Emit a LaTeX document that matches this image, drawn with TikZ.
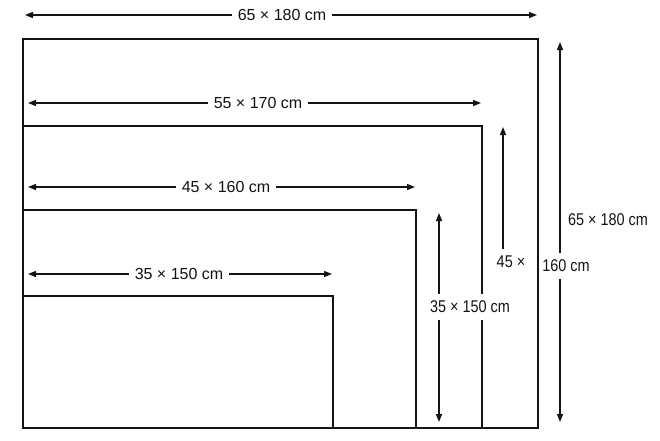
\documentclass[tikz,border=0pt]{standalone}
\usepackage{fontspec}
\setmainfont{Liberation Sans}
\usetikzlibrary{arrows.meta}
\begin{document}
\begin{tikzpicture}[x=1pt,y=-1pt,
  frame/.style={line width=2pt, draw=black!92, line join=miter},
  arr/.style={line width=1.4pt, draw=black!92, -{Triangle[length=8pt,width=6pt]}},
  hlbl/.style={font=\fontsize{16}{19}\selectfont, text=black!92, inner xsep=6pt, inner ysep=0pt},
  vlbl/.style={font=\fontsize{17}{20}\selectfont, text=black!92, inner xsep=1pt, inner ysep=7pt, fill=white}]
\useasboundingbox[fill=white] (0,0) rectangle (660,440);
% frames
\draw[frame] (23,39) rectangle (538,428);
\draw[frame] (23,126) rectangle (482,428);
\draw[frame] (23,210) rectangle (416,428);
\draw[frame] (23,296) rectangle (333,428);
% horizontal dimension arrows
\coordinate (h1l) at (25,15);  \coordinate (h1r) at (537,15);
\node[hlbl] (h1) at (282,15) {65 × 180 cm};
\draw[arr] (h1.west) -- (h1l); \draw[arr] (h1.east) -- (h1r);
\coordinate (h2l) at (28,103); \coordinate (h2r) at (481,103);
\node[hlbl] (h2) at (258,103) {55 × 170 cm};
\draw[arr] (h2.west) -- (h2l); \draw[arr] (h2.east) -- (h2r);
\coordinate (h3l) at (28,187); \coordinate (h3r) at (415,187);
\node[hlbl] (h3) at (226,187) {45 × 160 cm};
\draw[arr] (h3.west) -- (h3l); \draw[arr] (h3.east) -- (h3r);
\coordinate (h4l) at (28,274); \coordinate (h4r) at (332,274);
\node[hlbl] (h4) at (179,274) {35 × 150 cm};
\draw[arr] (h4.west) -- (h4l); \draw[arr] (h4.east) -- (h4r);
% vertical dimension arrows
\coordinate (v1t) at (560,42); \coordinate (v1b) at (560,422);
\node[vlbl] (v1) at (566,266) {\scalebox{0.85}[1]{160 cm}};
\node[vlbl, fill=none] (v1a) at (608,220) {\scalebox{0.85}[1]{65 × 180 cm}};
\draw[arr] (v1.north -| v1t) -- (v1t); \draw[arr] (v1.south -| v1b) -- (v1b);
\coordinate (v2t) at (503,127);
\node[vlbl] (v2) at (511,262) {\scalebox{0.85}[1]{45 ×}};
\draw[arr] (v2.north -| v2t) -- (v2t);
\coordinate (v3t) at (439,213); \coordinate (v3b) at (439,422);
\node[vlbl] (v3) at (470,307) {\scalebox{0.85}[1]{35 × 150 cm}};
\draw[arr] (v3.north -| v3t) -- (v3t); \draw[arr] (v3.south -| v3b) -- (v3b);
\end{tikzpicture}
\end{document}
